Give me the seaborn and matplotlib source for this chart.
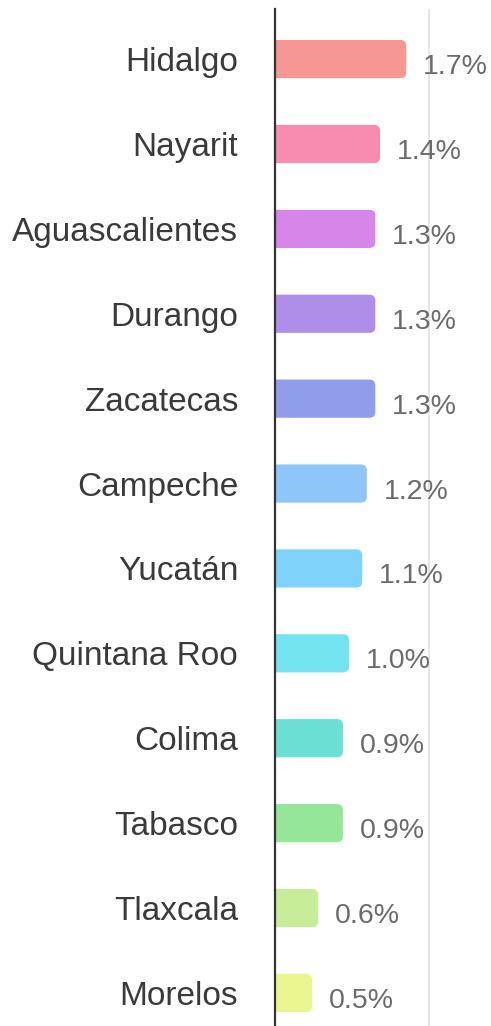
import matplotlib
matplotlib.use('Agg')
import matplotlib.pyplot as plt
import seaborn as sns
import pandas as pd
from matplotlib.patches import FancyBboxPatch

states = ['Hidalgo', 'Nayarit', 'Aguascalientes', 'Durango', 'Zacatecas', 'Campeche',
          'Yucatán', 'Quintana Roo', 'Colima', 'Tabasco', 'Tlaxcala', 'Morelos']
values = [1.70, 1.36, 1.30, 1.30, 1.30, 1.19, 1.13, 0.96, 0.88, 0.88, 0.56, 0.48]
colors = ['#F59793', '#F78BB0', '#D685E8', '#AF8EEA', '#8F9DEA', '#8EC6FA',
          '#7FD3FA', '#74E3F0', '#6ADFD3', '#96E69A', '#C7ED98', '#EBF58F']

df = pd.DataFrame({'state': states, 'value': values})

sns.set_style('white')
plt.rcParams['font.family'] = ['Liberation Sans', 'DejaVu Sans']

fig = plt.figure(figsize=(4.91, 10.26), dpi=100)
ax = fig.add_axes([275 / 491, 0, 216 / 491, 1017 / 1026])

sns.barplot(data=df, x='value', y='state', hue='state', palette=colors,
            saturation=1, legend=False, width=0.45, ax=ax, orient='h')

ax.set_xlim(0, 216 / 77.2)
ax.set_ylim(11.39, -0.59)

# swap the plain bars for rounded ones
px_x = (216 / 77.2) / 216
px_y = 11.98 / 1017
for p in list(ax.patches):
    x0, y0 = p.get_x(), p.get_y()
    w, h = p.get_width(), p.get_height()
    fc = p.get_facecolor()
    p.remove()
    rb = FancyBboxPatch((x0 - 0.1, y0), w + 0.1, h,
                        boxstyle='round,pad=0,rounding_size=%f' % (6 * px_x),
                        mutation_aspect=px_y / px_x,
                        facecolor=fc, edgecolor='none', zorder=2)
    ax.add_patch(rb)

for i, v in enumerate(values):
    ax.text(v + 17 * px_x, i + 8 * px_y, f'{v:.1f}%', va='center', ha='left',
            fontsize=20.5, color='#6b6b6b')

ax.axvline(2.0, color='#e6e6e6', lw=1.5, zorder=0)

for s in ['top', 'right', 'bottom']:
    ax.spines[s].set_visible(False)
ax.spines['left'].set_color('#333333')
ax.spines['left'].set_linewidth(1.6)

ax.set_xticks([])
ax.set_xlabel('')
ax.set_ylabel('')
ax.tick_params(axis='y', length=0, pad=26.5, labelsize=24, labelcolor='#3a3a3a')

fig.savefig('out.png', dpi=100)
